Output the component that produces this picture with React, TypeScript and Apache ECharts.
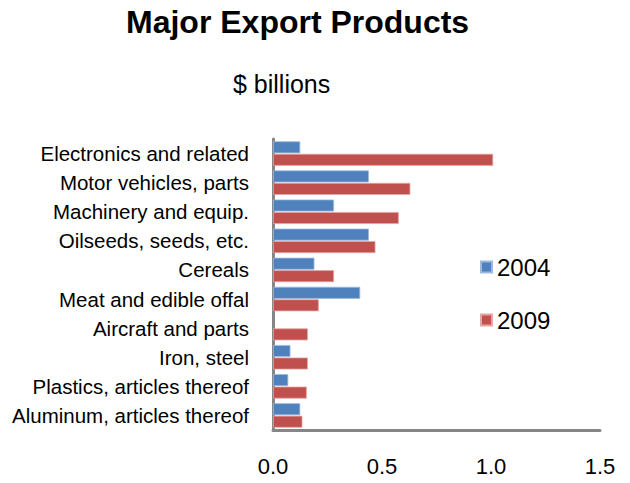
import React, { useEffect, useRef } from "react";
import * as echarts from "echarts";

const categories = [
  "Electronics and related",
  "Motor vehicles, parts",
  "Machinery and equip.",
  "Oilseeds, seeds, etc.",
  "Cereals",
  "Meat and edible offal",
  "Aircraft and parts",
  "Iron, steel",
  "Plastics, articles thereof",
  "Aluminum, articles thereof",
];
const values2004 = [0.125, 0.44, 0.28, 0.44, 0.19, 0.4, 0, 0.08, 0.07, 0.125];
const values2009 = [1.01, 0.63, 0.577, 0.47, 0.28, 0.21, 0.16, 0.16, 0.155, 0.135];
const xTicks = { min: 0, max: 1.5, interval: 0.5 };

const FONT = "'Liberation Sans', Arial, sans-serif";

const toBarData = (arr: number[]) => arr.map((v) => (v === 0 ? "-" : v));

export default function App() {
  const ref = useRef<HTMLDivElement>(null);
  useEffect(() => {
    if (!ref.current) return;
    const chart = echarts.init(ref.current, undefined, { renderer: "svg" });
    chart.setOption({
      animation: false,
      backgroundColor: "#ffffff",
      textStyle: { fontFamily: FONT },
      title: [
        {
          text: "Major Export Products",
          left: 121,
          top: 1,
          textStyle: { fontSize: 32, fontWeight: "bold", color: "#000", fontFamily: FONT },
        },
        {
          text: "$ billions",
          left: 228,
          top: 66,
          textStyle: { fontSize: 25, fontWeight: "normal", color: "#000", fontFamily: FONT },
        },
      ],
      legend: {
        orient: "vertical",
        left: 475,
        top: 250,
        itemWidth: 11,
        itemHeight: 11,
        itemGap: 29,
        icon: "rect",
        textStyle: { fontSize: 24, color: "#000", fontFamily: FONT },
        data: ["2004", "2009"],
      },
      grid: { left: 273, right: 30, top: 139, bottom: 53, containLabel: false },
      xAxis: {
        type: "value",
        min: xTicks.min,
        max: xTicks.max,
        interval: xTicks.interval,
        axisLine: { show: true, lineStyle: { color: "#868686", width: 3 } },
        axisTick: { show: false },
        splitLine: { show: false },
        axisLabel: {
          fontSize: 22,
          color: "#000",
          margin: 25,
          fontFamily: FONT,
          formatter: (v: number) => v.toFixed(1),
        },
      },
      yAxis: {
        type: "category",
        inverse: true,
        data: categories,
        axisLine: { show: true, lineStyle: { color: "#868686", width: 3 } },
        axisTick: { show: false },
        axisLabel: { fontSize: 20.5, color: "#000", margin: 24, fontFamily: FONT },
      },
      series: [
        {
          name: "2004",
          type: "bar",
          data: toBarData(values2004),
          barWidth: 12,
          barGap: "4%",
          itemStyle: { color: "#4F81BD", borderColor: "#9DB9DE", borderWidth: 0.8 },
        },
        {
          name: "2009",
          type: "bar",
          data: toBarData(values2009),
          barWidth: 12,
          barGap: "4%",
          itemStyle: { color: "#C0504D", borderColor: "#E3A5A3", borderWidth: 0.8 },
        },
      ],
    });
    return () => chart.dispose();
  }, []);
  return <div ref={ref} style={{ width: 630, height: 483, position: "absolute", left: 0, top: 0 }} />;
}
